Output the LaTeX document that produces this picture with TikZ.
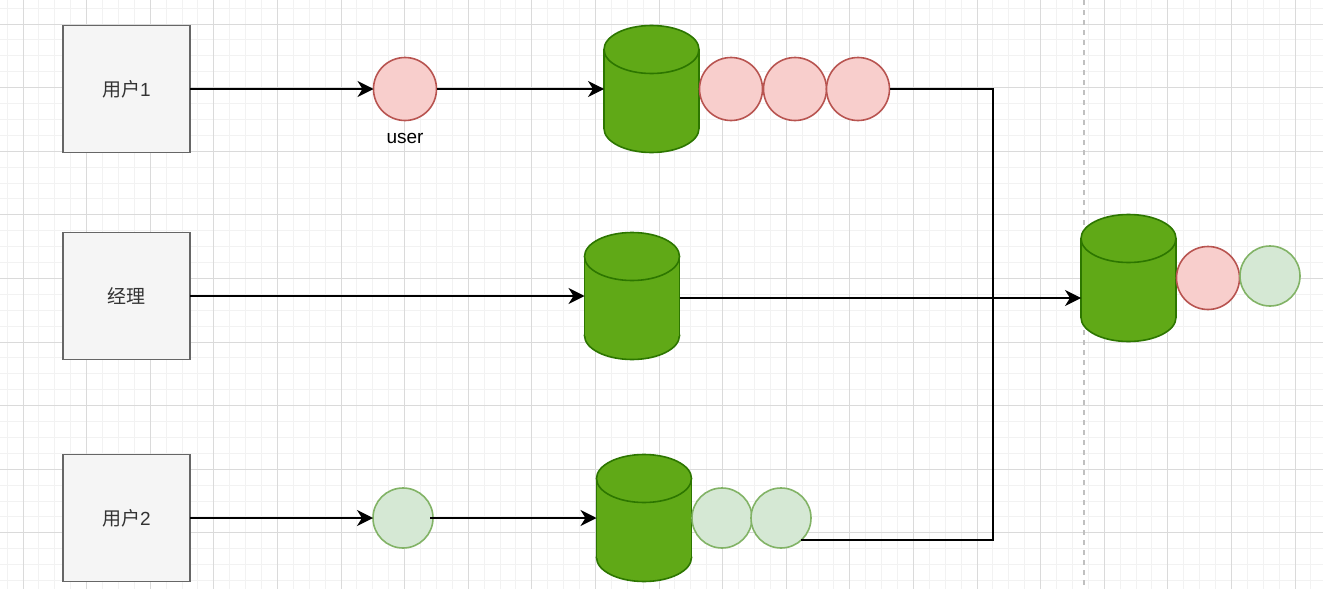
\documentclass[tikz,border=0pt]{standalone}
\usepackage{fontspec}
\setmainfont{Liberation Sans}
\newfontfamily\cjk{Noto Sans CJK SC}
\usetikzlibrary{arrows.meta,calc}
\definecolor{gridminor}{HTML}{F2F2F2}
\definecolor{gridmajor}{HTML}{DADADA}
\definecolor{boxfill}{HTML}{F5F5F5}
\definecolor{boxline}{HTML}{666666}
\definecolor{txt}{HTML}{333333}
\definecolor{cylf}{HTML}{60A917}
\definecolor{cyld}{HTML}{2D7600}
\definecolor{redf}{HTML}{F8CECC}
\definecolor{redd}{HTML}{B85450}
\definecolor{grnf}{HTML}{D5E8D4}
\definecolor{grnd}{HTML}{82B366}
\definecolor{dashc}{HTML}{C0C0C0}
\tikzset{
  box/.style={draw=boxline, fill=boxfill, line width=1.6pt, minimum size=127pt, inner sep=0pt, outer sep=0pt, text=txt, font=\fontsize{19}{23}\selectfont},
  cylnode/.style={draw=none, minimum width=95pt, minimum height=127pt, inner sep=0pt, outer sep=0pt},
  cylsty/.style={draw=cyld, fill=cylf, line width=1.6pt},
  redc/.style={circle, draw=redd, fill=redf, line width=1.6pt, minimum size=63pt, inner sep=0pt, outer sep=0pt},
  grnc/.style={circle, draw=grnd, fill=grnf, line width=1.6pt, minimum size=60pt, inner sep=0pt, outer sep=0pt},
  conn/.style={draw=black, line width=1.6pt},
  arr/.style={conn, -{Stealth[length=16pt, width=16pt, inset=5pt]}},
  lbl/.style={font=\fontsize{19}{23}\selectfont, text=black, inner sep=0pt},
}
\newcommand\mycyl[2]{%
  \node[cylnode] (#1) at (#2) {};
  \draw[cylsty] ([yshift=24pt]#1.south) ellipse [x radius=47.5pt, y radius=24pt];
  \fill[cylf] ([yshift=24pt]#1.south west) rectangle ([yshift=-24pt]#1.north east);
  \draw[cyld, line width=1.6pt] ([yshift=24pt]#1.south west) -- ([yshift=-24pt]#1.north west)
        ([yshift=24pt]#1.south east) -- ([yshift=-24pt]#1.north east);
  \draw[cylsty] ([yshift=-24pt]#1.north) ellipse [x radius=47.5pt, y radius=24pt];
}
\begin{document}
\begin{tikzpicture}[x=1pt, y=-1pt]
\useasboundingbox (0,0) rectangle (1323,589);
\fill[white] (0,0) rectangle (1323,589);
% grid
\foreach \i in {-1,...,82} \draw[gridminor, line width=1pt] ({23+15.9*\i},0) -- ({23+15.9*\i},589);
\foreach \i in {-1,...,36} \draw[gridminor, line width=1pt] (0,{24+15.9*\i}) -- (1323,{24+15.9*\i});
\foreach \i in {0,...,20} \draw[gridmajor, line width=1pt] ({23+63.6*\i},0) -- ({23+63.6*\i},589);
\foreach \i in {0,...,8} \draw[gridmajor, line width=1pt] (0,{24+63.6*\i}) -- (1323,{24+63.6*\i});
% dashed separator
\draw[dashc, line width=1.5pt, dash pattern=on 5pt off 5pt] (1084,0) -- (1084,589);

% boxes
\node[box] (u1) at (126.5,89) {{\cjk 用户}1};
\node[box] (m) at (126.5,296) {\cjk 经理};
\node[box] (u2) at (126.5,518) {{\cjk 用户}2};

% cylinders
\mycyl{c1}{651.5,89}
\mycyl{c2}{632,296}
\mycyl{c4}{644,518}
\mycyl{c3}{1128.5,278}

% circles
\node[redc] (r0) at (405,89) {};
\node[lbl, anchor=center] (ul) at (405,138) {user};
\node[redc] (r1) at (731,89) {};
\node[redc] (r2) at (795,89) {};
\node[redc] (r3) at (858,89) {};
\node[redc] (r4) at (1208,278) {};
\node[grnc] (g4) at (1270,276) {};
\node[grnc] (g0) at (403,518) {};
\node[grnc] (g1) at (722,518) {};
\node[grnc] (g2) at (781,518) {};

% connectors
\coordinate (c3in) at (1081,298);
\coordinate (j) at (993,298);
\draw[arr] (u1.east) -- (r0.west);
\draw[arr] (r0.east) -- (c1.west);
\draw[arr] (m.east) -- (c2.west);
\draw[arr] (u2.east) -- (g0.west);
\draw[arr] ([xshift=-3pt]g0.east) -- (c4.west);
\draw[conn] (r3.east) -| (j);
\draw[conn] (g2.-47) -| (j);
\draw[arr] (c2.east |- c3in) -- (c3in);
\end{tikzpicture}
\end{document}
